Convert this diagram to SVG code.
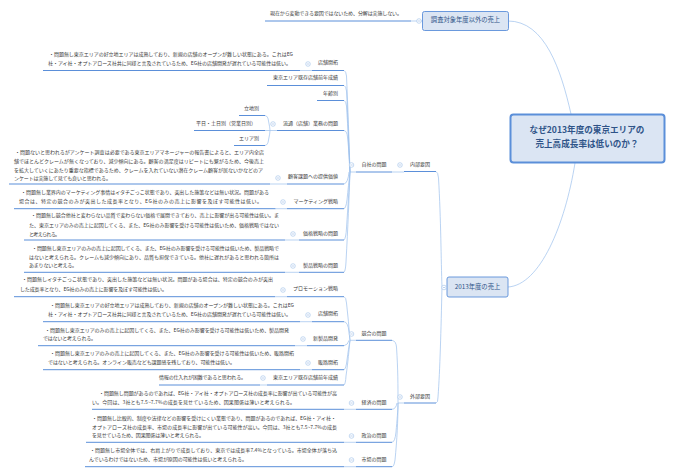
<svg xmlns="http://www.w3.org/2000/svg" width="674" height="475" viewBox="0 0 674 475">
<defs>
<g id="m"><circle r="2.3" fill="#fff" stroke="#9dbfe8" stroke-width="0.6"/><path d="M-1.2 0H1.2" stroke="#7da6dc" stroke-width="0.5"/></g>
</defs>
<style>
text{font-family:"Noto Sans CJK JP","Liberation Sans",sans-serif;font-size:5px;fill:#3a3a3a}
.u{stroke:#5b8fd9;stroke-width:1;fill:none}
.c{stroke:#9cc0ec;stroke-width:0.7;fill:none}
.big{fill:#dbe5f3;stroke:#5b8fd9}
.t{font-size:6.3px;fill:#2f5488;text-anchor:middle}
.r{font-size:8.6px;font-weight:700;fill:#2f5488;text-anchor:middle}
.l{text-anchor:end}
.a{text-anchor:middle}
</style>
<rect width="674" height="475" fill="#fff"/>
<g id="connectors">
<path class="c" d="M508 21C545 21 561 70 571 114"/>
<path class="c" d="M508 287C540 285 565 225 575 163"/>
<path class="c" d="M436 171.500Q438 172 438.500 178C441 220 441 260 442 287C441 330 440 370 438 397Q438 403 436 403"/>
<path class="c" d="M392 172H404M392 340.300Q396 341 396.500 347C398 370 398 385 398 403H404M392 409.300Q396 409 397 403M392 442.300Q395 442 396 432C397 420 398 410 398 403M392 466.700Q394 467 395 460C397 440 398 420 398 403"/>
<path class="c" d="M344 70.500Q346 71 346.500 76C348 110 349 140 350 172M344 85.500Q346 86 346.500 91C348 120 349 150 350 172M344 100.500Q346 101 346.500 106C348 130 349 150 350 172M344 130.500Q347 131 347.500 137C349 150 349 160 350 172M344 184Q348 183 349 172M344 208.700Q346 208 347 200C348 190 349 180 350 172M344 240Q346 238 346.500 228C348 205 349 190 350 172M344 272.300Q345.500 271 346 262C348 225 349 200 350 172M356 172H350"/>
<path class="c" d="M344 296.700Q346 297 346.500 303C348 315 349 328 350 340.300M344 321.700Q348 322 349 332L350 340.300M344 345.700Q348 345 349 340.300M344 369.700Q346 369 347 360C348 352 349 346 350 340.300M344 385Q345.500 384 346 376C348 362 349 350 350 340.300M350 340.300H356"/>
<path class="c" d="M265 115.500Q268 116 268.500 121Q270 128 270 130.500H277M265 130.500H270M265 145.500Q268 145 268.500 140Q270 133 270 130.500"/>
<path class="c" d="M300 70.500H312M270 184H287M275.500 208.700H287M285 240H299M285 272.300H299M275 296.700H287M300 321.700H312M295 345.700H307M300 369.700H312M260 385H267M344 409.300H356M344 442.300H356M344 466.700H356M411 21H422"/>
</g>
<g id="root"><rect class="big" x="510.500" y="114.500" width="154" height="48" rx="3" stroke-width="2"/><text class="r" x="587" y="132.500">なぜ2013年度の東京エリアの</text><text class="r" x="587" y="147">売上高成長率は低いのか？</text></g>
<g id="n-other"><rect class="big" x="422.500" y="11.500" width="86" height="19" rx="2" stroke-width="0.9"/><text class="t" x="465.500" y="22">調査対象年度以外の売上</text>
<path class="u" d="M265 21H411"/><use href="#m" x="419" y="21"/><text x="270" y="15.300" textLength="132">現在から変動できる要因ではないため、分解は実施しない。</text></g>
<g id="n-2013"><rect class="big" x="447" y="277" width="61" height="20" rx="2" stroke-width="0.9"/><text class="t" x="477.500" y="288.500">2013年度の売上</text><use href="#m" x="444" y="287.500"/></g>
<g id="n-internal"><path class="u" d="M404 171.500H436"/><use href="#m" x="400" y="165"/><text class="a" x="420" y="165.800">内部要因</text></g>
<g id="n-external"><path class="u" d="M404 403H436"/><use href="#m" x="400" y="397"/><text class="a" x="420" y="397.800">外部要因</text></g>
<g id="n-own"><path class="u" d="M356 172H392"/><use href="#m" x="351.500" y="165"/><text class="a" x="374" y="165.800">自社の問題</text></g>
<g id="n-comp"><path class="u" d="M356 340.300H392"/><use href="#m" x="351.500" y="334"/><text class="a" x="374" y="334.800">競合の問題</text></g>
<g id="n-econ"><path class="u" d="M356 409.300H392M92 409.300H344"/><use href="#m" x="351.500" y="403"/><text class="a" x="374" y="403.800">経済の問題</text>
<text x="99" y="394.500" textLength="238">・問題無し問題があるのであれば、EG社・アイ社・オプトアローズ社の成長率に影響が出ている可能性が高</text>
<text x="92" y="403.500" textLength="203">い。今回は、3社とも7.5~7.7%の成長を見せているため、因果関係は薄いと考えられる。</text></g>
<g id="n-pol"><path class="u" d="M356 442.300H392M86 442.300H344"/><use href="#m" x="351.500" y="436"/><text class="a" x="374" y="436.800">政治の問題</text>
<text x="92" y="419.800" textLength="244">・問題無し比較的、制度や法律などの影響を受けにくい業態であり、問題があるのであれば、EG社・アイ社・</text>
<text x="92" y="428.800" textLength="245">オプトアローズ社の成長率、市場の成長率に影響が出ている可能性が高い。今回は、3社とも7.5~7.7%の成長</text>
<text x="92" y="436.800" textLength="112">を見せているため、因果関係は薄いと考えられる。</text></g>
<g id="n-mkt"><path class="u" d="M356 466.700H392M85 466.700H344"/><use href="#m" x="351.500" y="460"/><text class="a" x="374" y="460.800">市場の問題</text>
<text x="90" y="451.800" textLength="247">・問題無し市場全体では、右肩上がりで成長しており、東京では成長率7.4%となっている。市場全体が落ち込</text>
<text x="89" y="460.800" textLength="158">んでいるわけではないため、市場が原因の可能性は低いと考えられる。</text></g>
<g id="n-store1"><path class="u" d="M312 70.500H344M43 70.500H300"/><use href="#m" x="308" y="64"/><text class="l" x="338" y="63.800">店舗開拓</text>
<text x="49" y="55.800" textLength="244">・問題無し東京エリアの好立地エリアは成熟しており、新規の店舗のオープンが難しい状態にある。これはEG</text>
<text x="48" y="64.800" textLength="243">社・アイ社・オプトアローズ社共に同様と言及されているため、EG社の店舗開発が遅れている可能性は低い。</text></g>
<g id="n-existing1"><path class="u" d="M267 85.500H344"/><text class="l" x="338" y="79.300">東京エリア既存店舗前年成績</text></g>
<g id="n-age"><path class="u" d="M317 100.500H344"/><text class="l" x="338" y="94.800">年齢別</text></g>
<g id="n-dist"><path class="u" d="M277 130.500H344"/><use href="#m" x="273" y="124"/><text class="l" x="338" y="124.800">流通（店舗）業務の問題</text></g>
<g id="n-loc"><path class="u" d="M239 115.500H265"/><text class="l" x="259" y="109.800">立地別</text></g>
<g id="n-day"><path class="u" d="M194 130.500H265"/><text class="l" x="256" y="124.800">平日・土日別（営業日別）</text></g>
<g id="n-area"><path class="u" d="M234 145.500H265"/><text class="l" x="259" y="139.800">エリア別</text></g>
<g id="n-cust"><path class="u" d="M287 184H344M9 184H270"/><use href="#m" x="278" y="178"/><text class="l" x="338" y="178.300">顧客課題への提供価値</text>
<text x="15" y="153.500" textLength="249">・問題ないと思われるがアンケート調査は必要である東京エリアマネージャーの報告書によると、エリア内全店</text>
<text x="14" y="162.500" textLength="250">舗でほとんどクレームが無くなっており、減少傾向にある。顧客の満足度はリピートにも繋がるため、今後売上</text>
<text x="14" y="171.800" textLength="249">を拡大していくにあたり重要な指標であるため、クレームを入れていない潜在クレーム顧客が居ないかなどのア</text>
<text x="14" y="179.500" textLength="97">ンケートは実施して見ても良いと思われる。</text></g>
<g id="n-mktg"><path class="u" d="M287 208.700H344M14 208.700H275.500"/><use href="#m" x="283" y="202"/><text class="l" x="338" y="202.800">マーケティング戦略</text>
<text x="21" y="193.800" textLength="248">・問題無し業界内のマーケティング事情はイタチごっこ状態であり、突出した施策などは無い状況。問題がある</text>
<text x="19" y="202.800" textLength="243">場合は、特定の競合のみが突出した成長率となり、EG社のみの売上に影響を及ぼす可能性は低い。</text></g>
<g id="n-price"><path class="u" d="M299 240H344M24 240H285"/><use href="#m" x="293" y="234"/><text class="l" x="338" y="234.800">価格戦略の問題</text>
<text x="31" y="216.800" textLength="248">・問題無し競合他社と変わらない品質で変わらない価格で展開できており、売上に影響が出る可能性は低い。ま</text>
<text x="29" y="226.500" textLength="250">た、東京エリアのみの売上に起因してくる、また、EG社のみ影響を受ける可能性は低いため、価格戦略ではない</text>
<text x="29" y="235.500" textLength="31">と考えられる。</text></g>
<g id="n-prod"><path class="u" d="M299 272.300H344M24 272.300H285"/><use href="#m" x="293" y="266"/><text class="l" x="338" y="267.300">製品戦略の問題</text>
<text x="32" y="250.300" textLength="247">・問題無し東京エリアのみの売上に起因してくる、また、EG社のみ影響を受ける可能性は低いため、製品戦略で</text>
<text x="29" y="258.800" textLength="250">はないと考えられる。クレームも減少傾向にあり、品質も担保できている。他社に遅れがあると思われる箇所は</text>
<text x="29" y="266.800" textLength="48">あまりないと考える。</text></g>
<g id="n-promo"><path class="u" d="M287 296.700H344M14 296.700H275"/><use href="#m" x="283" y="290"/><text class="l" x="338" y="289.800">プロモーション戦略</text>
<text x="22" y="280.800" textLength="251">・問題無しイタチごっこ状態であり、突出した施策などは無い状況。問題がある場合は、特定の競合のみが突出</text>
<text x="20" y="290.500" textLength="147">した成長率となり、EG社のみの売上に影響を及ぼす可能性は低い。</text></g>
<g id="n-store2"><path class="u" d="M312 321.700H344M43 321.700H300"/><use href="#m" x="308" y="315"/><text class="l" x="338" y="315.300">店舗開拓</text>
<text x="50" y="306.800" textLength="244">・問題無し東京エリアの好立地エリアは成熟しており、新規の店舗のオープンが難しい状態にある。これはEG</text>
<text x="48" y="315.800" textLength="243">社・アイ社・オプトアローズ社共に同様と言及されているため、EG社の店舗開発が遅れている可能性は低い。</text></g>
<g id="n-newprod"><path class="u" d="M307 345.700H344M38 345.700H295"/><use href="#m" x="303" y="339"/><text class="l" x="338" y="339.800">新製品開発</text>
<text x="45" y="331.800" textLength="244">・問題無し東京エリアのみの売上に起因してくる、また、EG社のみ影響を受ける可能性は低いため、製品開発</text>
<text x="43" y="339.800" textLength="53">ではないと考えられる。</text></g>
<g id="n-channel"><path class="u" d="M312 369.700H344M43 369.700H300"/><use href="#m" x="308" y="363"/><text class="l" x="338" y="363.800">販路開拓</text>
<text x="50" y="355.300" textLength="244">・問題無し東京エリアのみの売上に起因してくる、また、EG社のみ影響を受ける可能性は低いため、販路開拓</text>
<text x="48" y="363.800" textLength="187">ではないと考えられる。オンライン販売なども課題感を残しており、可能性は低い。</text></g>
<g id="n-existing2"><path class="u" d="M267 385H344M159 385H260"/><use href="#m" x="263" y="378"/><text class="l" x="338" y="378.800">東京エリア既存店舗前年成績</text><text x="159" y="378.800" textLength="87">情報の仕入れが困難であると思われる。</text></g>
</svg>
